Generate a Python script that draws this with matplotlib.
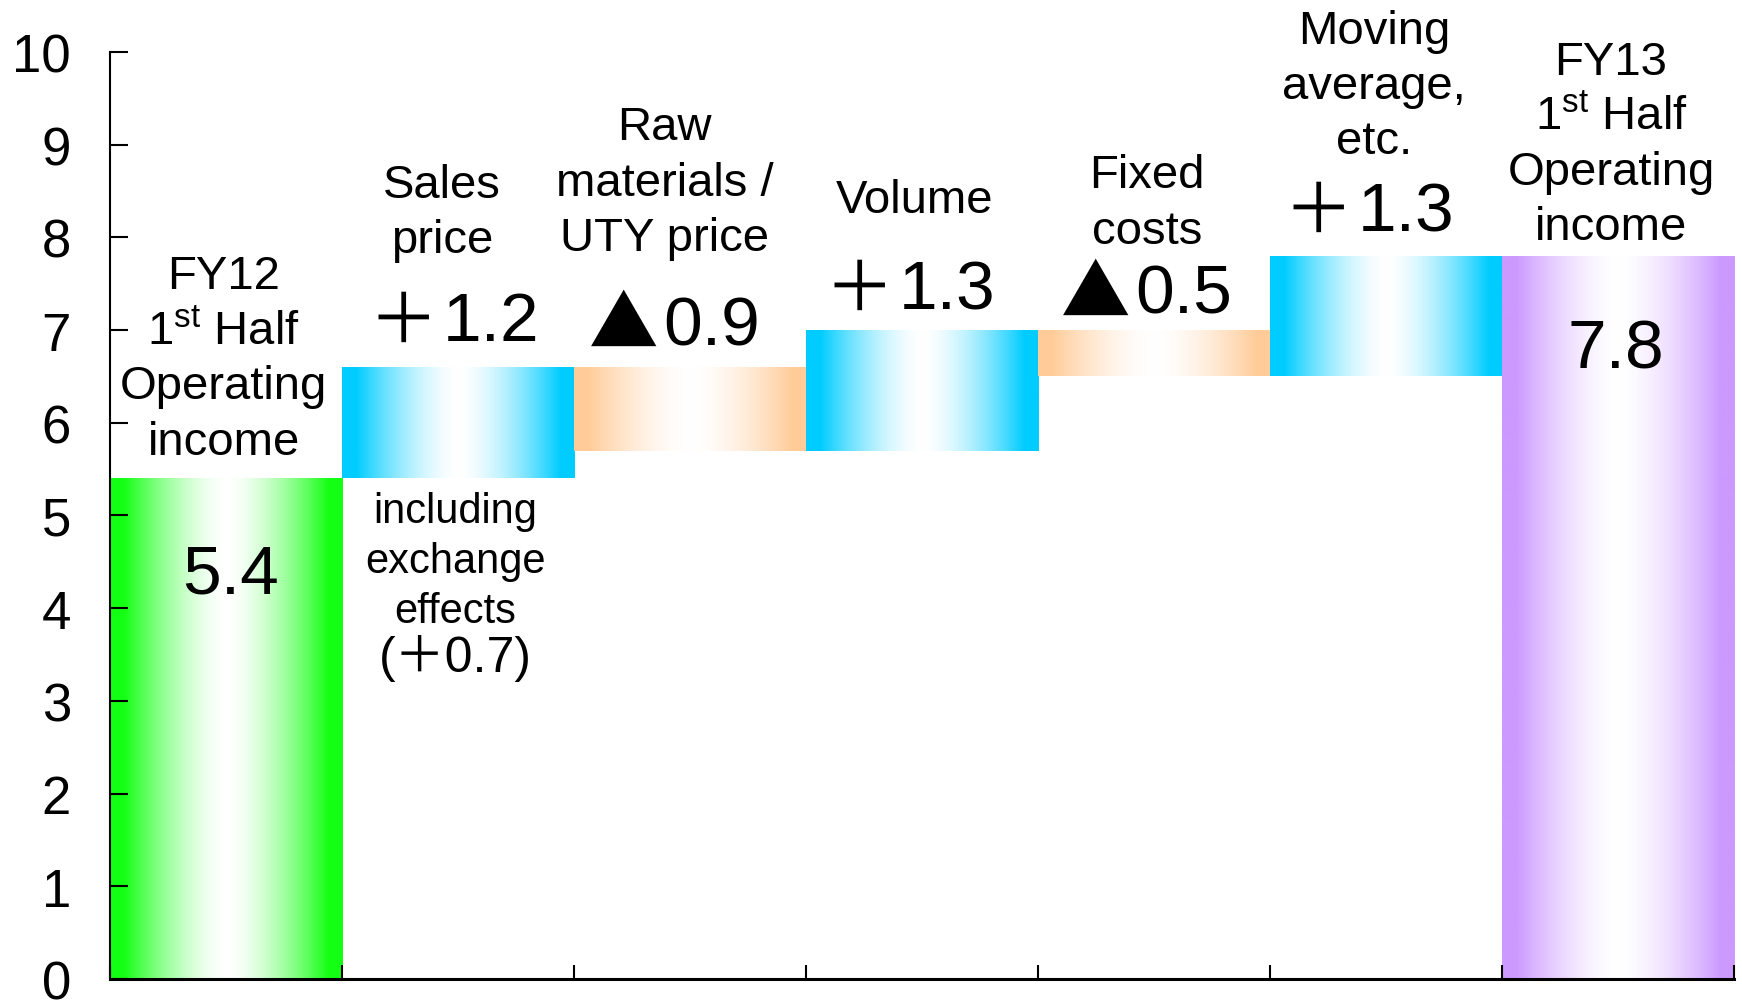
import numpy as np
import matplotlib.pyplot as plt
from matplotlib.colors import to_rgb

plt.rcParams['font.family'] = ['Liberation Sans', 'Noto Sans CJK JP', 'DejaVu Sans']
plt.rcParams['mathtext.fontset'] = 'custom'
plt.rcParams['mathtext.rm'] = 'Liberation Sans'

# =========================
# Data
# =========================
start_value = 5.4
end_value = 7.8
changes = [1.2, -0.9, 1.3, -0.5, 1.3]
labels = [
    "FY12\n1$^{\\mathrm{st}}$ Half\nOperating\nincome",
    "Sales\nprice",
    "Raw\nmaterials /\nUTY price",
    "Volume",
    "Fixed\ncosts",
    "Moving\naverage,\netc.",
    "FY13\n1$^{\\mathrm{st}}$ Half\nOperating\nincome",
]
note_lines = "including\nexchange\neffects"
note_value = 0.7
yticks = list(range(0, 11))

# waterfall levels
levels = np.concatenate([[start_value], start_value + np.cumsum(changes)])
bottoms = [0] + list(np.minimum(levels[:-1], levels[1:])) + [0]
tops = [start_value] + list(np.maximum(levels[:-1], levels[1:])) + [end_value]

green, cyan, peach, purple = "#14ff14", "#00ccff", "#ffcc99", "#cc99ff"
colors = [green] + [cyan if c > 0 else peach for c in changes] + [purple]

# text placement (data coords)
label_x = [0.49, 1.43, 2.39, 3.47, 4.47, 5.45, 6.47]
label_y = [6.69, 8.27, 8.59, 8.40, 8.37, 9.63, 9.00]
total_x = [0.52, 6.49]
total_y = [4.36, 6.79]
# junction between sign and number for the change labels
change_x = [1.416, 2.365, 3.38, 4.40, 5.36]
change_y = [7.09, 7.04, 7.43, 7.38, 8.27]


def gradient(color, n=256):
    # colour at both edges, fading to white in the middle
    u = np.abs(np.linspace(-1, 1, n))
    mix = np.clip(u / 0.88, 0, 1) ** 1.6
    c = np.array(to_rgb(color))
    img = 1 - mix[:, None] * (1 - c)
    return img[None, :, :]


fig = plt.figure(figsize=(17.42, 10.03), dpi=100)
ax = fig.add_axes([0.0631, 0.0229, 0.9323, 0.9243])

for i in range(len(labels)):
    bar = ax.bar(i + 0.5, tops[i] - bottoms[i], bottom=bottoms[i], width=1.0,
                 color='none', linewidth=0)
    im = ax.imshow(gradient(colors[i]), extent=[i, i + 1, bottoms[i], tops[i]],
                   aspect='auto', interpolation='bilinear', zorder=1)
    im.set_clip_path(bar.patches[0])

    ax.text(label_x[i], label_y[i], labels[i], ha='center', va='center',
            fontsize=34, linespacing=1.33)

# start / end totals
for x, y, v in zip(total_x, total_y, [start_value, end_value]):
    ax.text(x, y, f"{v:.1f}", ha='center', va='center', fontsize=50)

# change values: sign glyph + number
for x, y, c in zip(change_x, change_y, changes):
    sign = "＋" if c > 0 else "▲"
    ax.text(x, y, sign, ha='right', va='center', fontsize=50,
            fontfamily='Noto Sans CJK JP')
    ax.text(x + 0.02, y, f"{abs(c):.1f}", ha='left', va='center', fontsize=50)

# note under sales price bar
ax.text(1.49, 4.51, note_lines, ha='center', va='center', fontsize=30,
        linespacing=1.33)
ax.text(1.49, 3.47, f"(＋{note_value:.1f})", ha='center', va='center', fontsize=36)

ax.set_xlim(0, len(labels))
ax.set_ylim(0, 10)
ax.set_xticks(range(len(labels) + 1))
ax.set_xticklabels([])
ax.set_yticks(yticks, labels=[str(t) for t in yticks], fontsize=38)

ax.tick_params(axis='y', direction='in', length=13, width=1.5, pad=28)
ax.tick_params(axis='x', direction='in', length=10, width=1.5)
for s in ['top', 'right']:
    ax.spines[s].set_visible(False)
ax.spines['left'].set_linewidth(1.5)
ax.spines['bottom'].set_linewidth(2.2)

fig.savefig("out.png", dpi=100)
